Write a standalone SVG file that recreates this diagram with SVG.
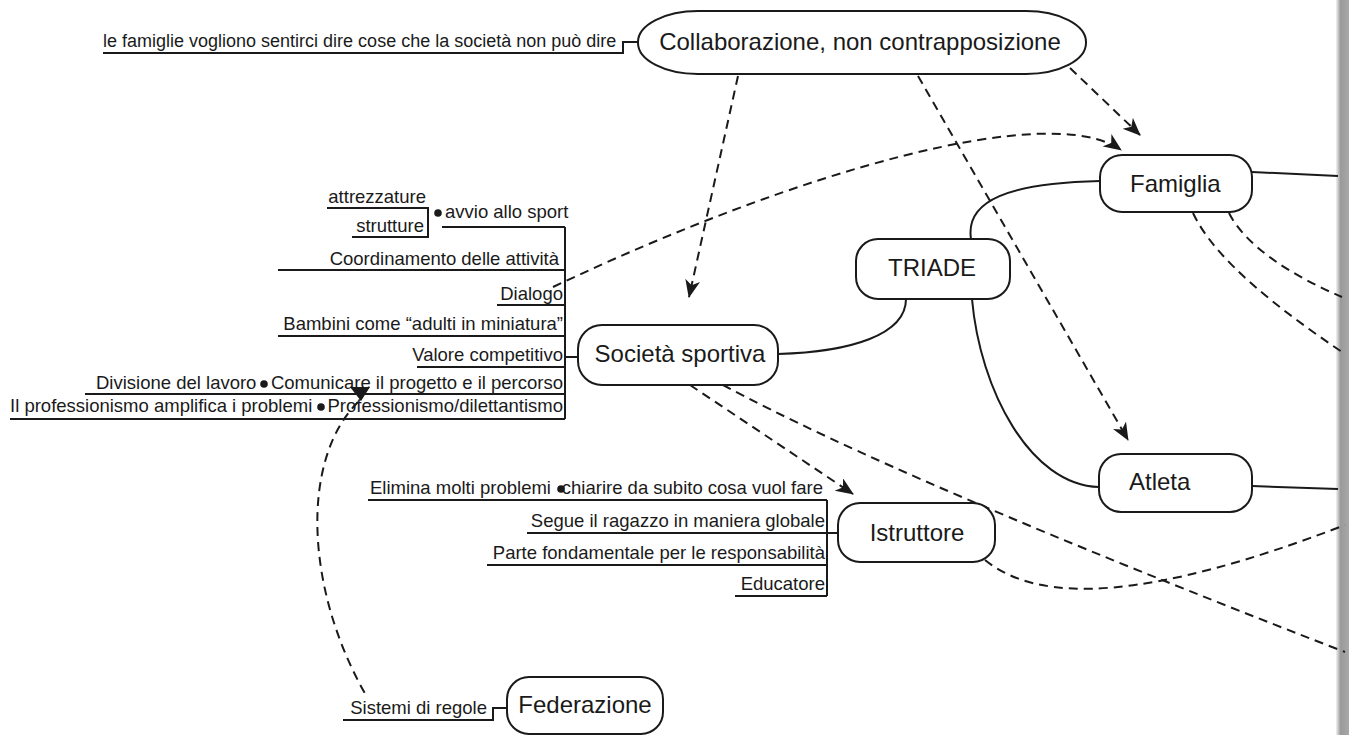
<svg xmlns="http://www.w3.org/2000/svg" width="1349" height="735" viewBox="0 0 1349 735">
  <style>
    .node { fill: #fff; stroke: #1a1a1a; stroke-width: 2; }
    .ntext { font-family: "Liberation Sans", Arial, sans-serif; font-size: 24px; fill: #1a1a1a; }
    .leaf { font-family: "Liberation Sans", Arial, sans-serif; font-size: 18.5px; fill: #1a1a1a; }
    .small { font-size: 18px; }
    .line { fill: none; stroke: #1a1a1a; stroke-width: 2; }
    .link { fill: none; stroke: #1a1a1a; stroke-width: 2; }
    .dash { fill: none; stroke: #1a1a1a; stroke-width: 2; stroke-dasharray: 9 6; }
    .dot { fill: #1a1a1a; }
  </style>
  <defs>
    <marker id="arrow" markerUnits="userSpaceOnUse" markerWidth="20" markerHeight="16" refX="17" refY="7.5" orient="auto">
      <path d="M0,0 L18,7.5 L0,15 L5,7.5 z" fill="#1a1a1a"/>
    </marker>
    <linearGradient id="edge" x1="0" y1="0" x2="1" y2="0">
      <stop offset="0" stop-color="#f2f2f2"/>
      <stop offset="0.35" stop-color="#9a9a9a"/>
      <stop offset="1" stop-color="#a8a8a8"/>
    </linearGradient>
  </defs>

  <rect width="1349" height="735" fill="#fff"/>
  <!-- binding edge of the page -->
  <rect x="1336" y="0" width="13" height="735" fill="url(#edge)"/>

  <!-- connectors -->
  <g id="connectors">
    <!-- solid links of the triad -->
    <path class="link" d="M971,239 C965,200 1010,183 1100,181"/>
    <path class="link" d="M906,299 C906,335 850,352 778,354"/>
    <path class="link" d="M972,299 C980,390 1030,485 1099,487"/>
    <path class="link" d="M1252,172 L1338,176"/>
    <path class="link" d="M1252,486 L1338,489"/>

    <!-- dashed relations -->
    <path class="dash" d="M738,76 L689,297" marker-end="url(#arrow)"/>
    <path class="dash" d="M918,76 L1128,440" marker-end="url(#arrow)"/>
    <path class="dash" d="M1070,68 L1140,135" marker-end="url(#arrow)"/>
    <path class="dash" d="M553,287 C800,170 1050,100 1121,150" marker-end="url(#arrow)"/>
    <path class="dash" d="M358,402 C300,460 305,590 367,697"/>
    <path d="M350,387 L370,387 L361,401 z" fill="#1a1a1a"/>
    <path class="dash" d="M690,385 L853,494" marker-end="url(#arrow)"/>
    <path class="dash" d="M723,385 Q900,480 1345,652"/>
    <path class="dash" d="M985,560 C1040,605 1150,600 1345,525"/>
    <path class="dash" d="M1193,213 C1215,260 1280,310 1342,352"/>
    <path class="dash" d="M1229,213 C1245,245 1290,275 1342,297"/>
  </g>

  <!-- Collaborazione, non contrapposizione -->
  <g id="collaborazione">
    <rect class="node" x="638" y="11" width="448" height="63" rx="60" ry="31"/>
    <text class="ntext" x="860" y="50" text-anchor="middle">Collaborazione, non contrapposizione</text>
    <path class="line" d="M103,53 L623,53 L623,42 L638,42"/>
    <text class="leaf small" x="103" y="47">le famiglie vogliono sentirci dire cose che la società non può dire</text>
  </g>

  <!-- Famiglia -->
  <g id="famiglia">
    <rect class="node" x="1100" y="155" width="152" height="57" rx="22"/>
    <text class="ntext" x="1130" y="192">Famiglia</text>
  </g>

  <!-- TRIADE -->
  <g id="triade">
    <rect class="node" x="856" y="239" width="154" height="60" rx="22"/>
    <text class="ntext" x="932" y="276" text-anchor="middle">TRIADE</text>
  </g>

  <!-- Atleta -->
  <g id="atleta">
    <rect class="node" x="1099" y="454" width="153" height="58" rx="22"/>
    <text class="ntext" x="1129" y="490">Atleta</text>
  </g>

  <!-- Società sportiva with its branch -->
  <g id="societa">
    <rect class="node" x="578" y="325" width="200" height="60" rx="24"/>
    <text class="ntext" x="680" y="362" text-anchor="middle">Società sportiva</text>

    <path class="line" d="M565,227 L565,419"/>
    <path class="line" d="M565,357 L578,357"/>

    <path class="line" d="M327,208 L428,208 L428,237 L352,237"/>
    <text class="leaf" x="426" y="203" text-anchor="end">attrezzature</text>
    <text class="leaf" x="424" y="232" text-anchor="end">strutture</text>
    <circle class="dot" cx="438" cy="213" r="3.8"/>
    <text class="leaf" x="445" y="218">avvio allo sport</text>
    <path class="line" d="M442,227 L565,227"/>

    <text class="leaf" x="559" y="265" text-anchor="end">Coordinamento delle attività</text>
    <path class="line" d="M278,270 L565,270"/>

    <text class="leaf" x="563" y="300" text-anchor="end">Dialogo</text>
    <path class="line" d="M497,305 L565,305"/>

    <text class="leaf" x="563" y="330" text-anchor="end">Bambini come “adulti in miniatura”</text>
    <path class="line" d="M278,336 L565,336"/>

    <text class="leaf" x="563" y="361" text-anchor="end">Valore competitivo</text>
    <path class="line" d="M417,367 L565,367"/>

    <text class="leaf" x="96" y="389">Divisione del lavoro</text>
    <circle class="dot" cx="264" cy="384" r="3.8"/>
    <text class="leaf" x="563" y="389" text-anchor="end">Comunicare il progetto e il percorso</text>
    <path class="line" d="M85,394 L565,394"/>

    <text class="leaf" x="10" y="412">Il professionismo amplifica i problemi</text>
    <circle class="dot" cx="321" cy="407" r="3.8"/>
    <text class="leaf" x="563" y="412" text-anchor="end">Professionismo/dilettantismo</text>
    <path class="line" d="M10,419 L565,419"/>
  </g>

  <!-- Istruttore with its branch -->
  <g id="istruttore">
    <rect class="node" x="838" y="503" width="157" height="59" rx="22"/>
    <text class="ntext" x="917" y="541" text-anchor="middle">Istruttore</text>

    <path class="line" d="M827,500 L827,596"/>
    <path class="line" d="M827,533 L838,533"/>

    <text class="leaf" x="370" y="494">Elimina molti problemi</text>
    <circle class="dot" cx="561" cy="489" r="3.8"/>
    <text class="leaf" x="823" y="494" text-anchor="end">chiarire da subito cosa vuol fare</text>
    <path class="line" d="M368,500 L827,500"/>

    <text class="leaf" x="825" y="527" text-anchor="end">Segue il ragazzo in maniera globale</text>
    <path class="line" d="M527,533 L827,533"/>

    <text class="leaf" x="825" y="559" text-anchor="end">Parte fondamentale per le responsabilità</text>
    <path class="line" d="M487,565 L827,565"/>

    <text class="leaf" x="825" y="590" text-anchor="end">Educatore</text>
    <path class="line" d="M735,596 L827,596"/>
  </g>

  <!-- Federazione with its branch -->
  <g id="federazione">
    <rect class="node" x="507" y="677" width="156" height="57" rx="22"/>
    <text class="ntext" x="585" y="713" text-anchor="middle">Federazione</text>
    <path class="line" d="M343,720 L493,720 L493,708 L507,708"/>
    <text class="leaf" x="487" y="714" text-anchor="end">Sistemi di regole</text>
  </g>
</svg>
